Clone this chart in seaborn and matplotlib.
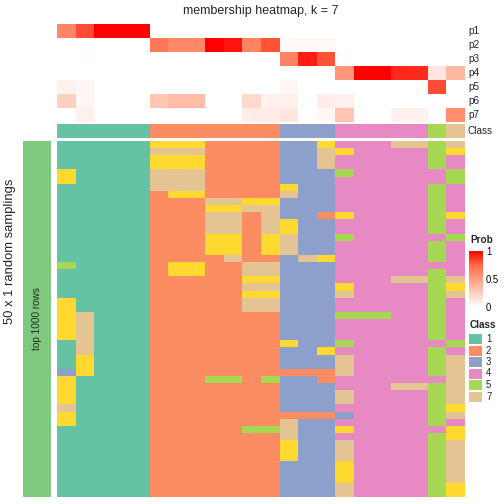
import numpy as np
import matplotlib
matplotlib.use("Agg")
import matplotlib.pyplot as plt
from matplotlib.colors import ListedColormap, LinearSegmentedColormap
from matplotlib.patches import Rectangle
import seaborn as sns

sns.set_theme(style="white")
plt.rcParams['font.family'] = ['Liberation Sans', 'DejaVu Sans']

# membership probabilities (rows p1..p7, 22 samples)
p1 = [0.62, 0.82, 1, 1, 1, 0, 0, 0, 0, 0, 0, 0, 0, 0, 0, 0, 0, 0, 0, 0, 0, 0]
p2 = [0, 0, 0, 0, 0, 0.68, 0.6, 0.6, 1, 0.95, 0.63, 0.8, 0.03, 0.03, 0.03, 0, 0, 0, 0, 0, 0, 0]
p3 = [0, 0.01, 0, 0, 0, 0, 0, 0, 0, 0.01, 0, 0, 0.63, 0.93, 0.8, 0.01, 0, 0, 0, 0, 0, 0]
p4 = [0, 0, 0, 0, 0, 0, 0, 0, 0, 0, 0, 0, 0, 0, 0, 0.53, 1, 1, 0.9, 0.9, 0.13, 0.37]
p5 = [0.07, 0.04, 0, 0, 0, 0, 0, 0, 0, 0, 0, 0, 0.04, 0, 0, 0, 0, 0, 0, 0, 0.82, 0]
p6 = [0.25, 0.04, 0, 0, 0, 0.3, 0.35, 0.35, 0, 0, 0.2, 0.07, 0.08, 0, 0.1, 0.08, 0, 0, 0, 0, 0, 0]
p7 = [0, 0.08, 0, 0, 0, 0, 0, 0, 0, 0, 0.1, 0.1, 0.13, 0, 0.04, 0.3, 0, 0, 0.07, 0.07, 0, 0.58]
prob_labels = ["p1", "p2", "p3", "p4", "p5", "p6", "p7"]

# consensus class of each sample
class_row = "1111122222223334444457"

# class of each sample in the 50 random samplings
samplings = [
    "1111166622223364447757", "1111177722223376444456", "1111166622223374444454",
    "1111166622223374444454", "6111177722223335444445", "6111177722223334444445",
    "1111177722226334444454", "1111126622227334444454", "1111122277663334444454",
    "1111122266773334444454", "1111122277273326444456", "1111122277276334444454",
    "1111122277276334444454", "1111122266267335444445", "1111122266267334444454",
    "1111122266267334444454", "1111122227223764444454", "5111126622773334444444",
    "1111126622773334444454", "1111122222663334447757", "1111122222773336444456",
    "1111122222663337444457", "6111122222773334444454", "6111122222773334444454",
    "6711122222223335554454", "6711122222223334444454", "6711122222223334444454",
    "6711122222223334444454", "1711122222226335444445", "1711122222223364444454",
    "1611122222223337444457", "1611122222223337444457", "3611122222222227444457",
    "6111122255253324444447", "6111122222223334447757", "6111122222223337444457",
    "6111122222223337444457", "7111122222223334444456", "6111122222222223444457",
    "6111122222227334444454", "1111122222557336444446", "1111122222227334444456",
    "1111122222226337444457", "1111122222226337444457", "1111122222226337444457",
    "1111122222223336444457", "1111122222223336444457", "1111122222223336444457",
    "1111122222223337444456", "1111122222223337444456",
]
legend_classes = [1, 2, 3, 4, 5, 7]

W = H = 504
fig = plt.figure(figsize=(7, 7), dpi=72)


def px_axes(x0, y0, x1, y1):
    return fig.add_axes([x0 / W, 1 - y1 / H, (x1 - x0) / W, (y1 - y0) / H])


class_colors = sns.color_palette("Set2", 7)
class_cmap = ListedColormap(class_colors)
prob_cmap = LinearSegmentedColormap.from_list(
    "prob", [(0, "#FFFFFF"), (0.25, "#FFCFBF"), (0.5, "#FF9E81"), (0.75, "#FF6846"), (1, "#FF0000")])

prob = np.array([p1, p2, p3, p4, p5, p6, p7])
cls = np.array([[int(c) for c in class_row]])
body = np.array([[int(c) for c in r] for r in samplings])

# top annotation: probabilities
ax_p = px_axes(57, 24, 465, 122)
cax = px_axes(469, 251, 483, 307)
sns.heatmap(prob, cmap=prob_cmap, vmin=0, vmax=1, ax=ax_p, cbar_ax=cax,
            xticklabels=False, yticklabels=False)
for i, lab in enumerate(prob_labels):
    fig.text(468 / W, 1 - (24 + 14 * i + 7) / H, lab, fontsize=10, va="center", ha="left")

cax.set_yticks([0, 0.5, 1])
cax.set_yticklabels(["0", "0.5", "1"])
cax.tick_params(axis="y", direction="in", colors="white", length=3, width=1,
                left=True, right=True, labelsize=9.5, labelcolor="black", pad=3)
for s in cax.spines.values():
    s.set_visible(False)
fig.text(470 / W, 1 - 240 / H, "Prob", fontsize=10, fontweight="bold", va="center", ha="left")

# class annotation row
ax_c = px_axes(57, 124, 465, 138)
sns.heatmap(cls, cmap=class_cmap, vmin=0.5, vmax=7.5, cbar=False, ax=ax_c,
            xticklabels=False, yticklabels=False)
fig.text(468 / W, 1 - 131 / H, "Class", fontsize=10, va="center", ha="left")

# main body
ax_b = px_axes(57, 141, 465, 497)
sns.heatmap(body, cmap=class_cmap, vmin=0.5, vmax=7.5, cbar=False, ax=ax_b,
            xticklabels=False, yticklabels=False)

# left split bar
ax_l = px_axes(23, 141, 51, 497)
sns.heatmap(np.ones((1, 1)), cmap=ListedColormap(["#7FC97F"]), cbar=False, ax=ax_l,
            xticklabels=False, yticklabels=False)
ax_l.text(0.5, 0.5, "top 1000 rows", rotation=90, fontsize=10, ha="center", va="center")
fig.text(10 / W, 1 - 251 / H, "50 x 1 random samplings", rotation=90, fontsize=13,
         ha="center", va="center")

# class legend
fig.text(470 / W, 1 - 325 / H, "Class", fontsize=10, fontweight="bold", va="center", ha="left")
for i, k in enumerate(legend_classes):
    top = 334 + 11.5 * i
    fig.patches.append(Rectangle((469 / W, 1 - (top + 10) / H), 13 / W, 10 / H,
                                 transform=fig.transFigure, facecolor=class_colors[k - 1],
                                 edgecolor="none"))
    fig.text(486 / W, 1 - (top + 5) / H, str(k), fontsize=9.5, va="center", ha="left")

fig.text(261 / W, 1 - 11 / H, "membership heatmap, k = 7", fontsize=12.5, ha="center", va="center")

fig.savefig("out.png", dpi=72)
